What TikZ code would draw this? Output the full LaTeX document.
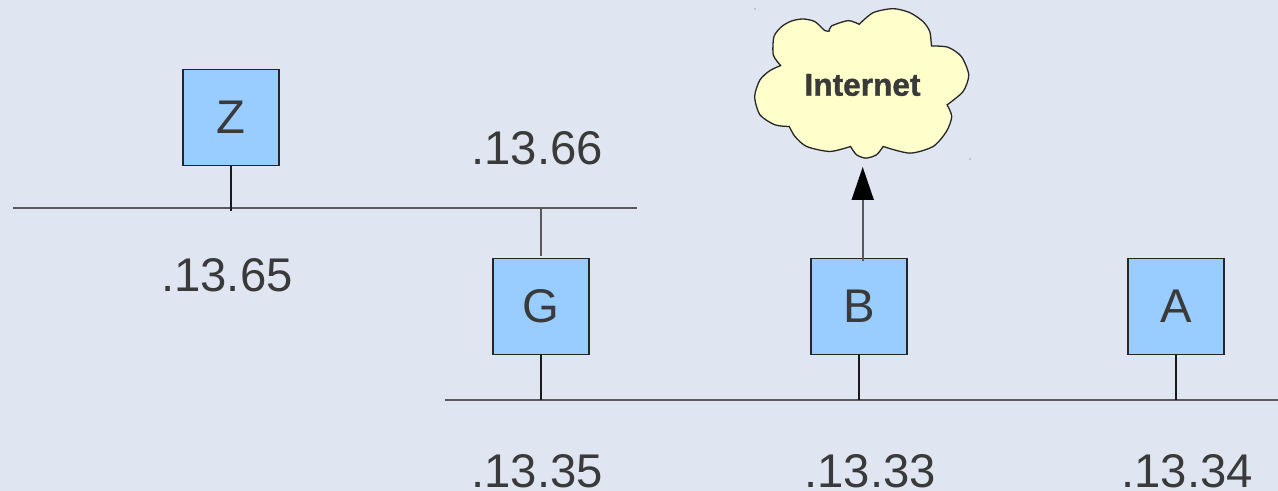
\documentclass[tikz,border=0pt]{standalone}
\usepackage{fontspec}
\setmainfont{Liberation Sans}
\newfontfamily\cloudfont{Liberation Sans Bold}[FakeBold=1.2]
\usetikzlibrary{arrows.meta}
\definecolor{slidebg}{HTML}{DFE6F2}
\definecolor{hostblue}{HTML}{99CCFF}
\definecolor{cloudyellow}{HTML}{FFFFCC}
\definecolor{inktext}{HTML}{3A3A3A}
\tikzset{
  host/.style={draw=black!85,fill=hostblue,line width=0.13mm,minimum size=9.6mm,inner sep=0pt,text=inktext,font=\fontsize{13.45}{16}\selectfont},
  addr/.style={inner sep=0pt,text=inktext,font=\fontsize{13.45}{16}\selectfont},
  wire/.style={draw=black!90,line width=0.13mm},
  netline/.style={draw=black!65,line width=0.15mm},
}
\begin{document}
\begin{tikzpicture}[x=0.1mm,y=-0.1mm]
      \useasboundingbox (0,0) rectangle (1278,491);
      \clip (0,0) rectangle (1278,491);
      \fill[slidebg] (0,0) rectangle (1278,491);
      % networks
      \coordinate (upleft) at (13,208);
      \coordinate (upright) at (637,208);
      \coordinate (lowleft) at (445,400);
      \coordinate (lowright) at (1278,400);
      \draw[netline] (upleft)--(upright);
      \draw[netline] (lowleft)--(lowright);
      % hosts
      \node[host] (Z) at (231,117.5) {Z};
      \node[host] (G) at (541,306.5) {G};
      \node[host] (B) at (859,306.5) {B};
      \node[host] (A) at (1176,306.5) {A};
      \coordinate (ztap) at (231,211);
      \coordinate (gtop) at (541,208);
      \coordinate (glow) at (541,400);
      \coordinate (blow) at (859,400);
      \coordinate (alow) at (1176,400);
      \draw[wire] (Z.south)--(ztap);
      \draw[netline,shorten >=0.2mm] (gtop)--(G.north);
      \draw[wire] (G.south)--(glow);
      \draw[wire] (B.south)--(blow);
      \draw[wire] (A.south)--(alow);
      % cloud, traced lobe by lobe
      \begin{scope}[shift={(740,0)},x=0.0333mm,y=-0.0333mm]
        \filldraw[draw=black!85,fill=cloudyellow,line width=0.13mm]
          plot[smooth,tension=0.45] coordinates {(122,197) (100,165) (102,110) (125,80) (155,63) (190,57) (225,65) (255,92) (268,93)}
          -- plot[smooth,tension=0.45] coordinates {(268,93) (275,78) (325,62) (358,73)}
          -- plot[smooth,tension=0.45] coordinates {(358,73) (400,38) (460,26) (510,38) (550,65) (570,95) (575,138)}
          -- plot[smooth,tension=0.45] coordinates {(575,138) (625,142) (665,170) (687,225) (670,275) (622,315)}
          -- plot[smooth,tension=0.45] coordinates {(622,315) (636,350) (620,395) (580,440) (510,460) (430,440)}
          -- plot[smooth,tension=0.45] coordinates {(430,440) (410,465) (378,475) (350,465) (332,440)}
          -- plot[smooth,tension=0.45] coordinates {(332,440) (270,455) (200,440) (165,410) (148,380)}
          -- plot[smooth,tension=0.45] coordinates {(148,380) (105,375) (60,345) (44,290) (60,240) (90,212) (122,197)}
          -- cycle;
      \end{scope}
      \node[inner sep=0pt,text=inktext,font=\fontsize{9}{10}\cloudfont] (net) at (862.5,85) {Internet};
      \fill[black!60] (755,9) circle (0.6);
      \fill[black!60] (970,159) circle (0.6);
      % uplink
      \coordinate (bfoot) at (862.7,261);
      \coordinate (nettip) at (862.7,167);
      \draw[netline,line width=0.17mm,-{Triangle[length=3.3mm,width=2.2mm,black]}] (bfoot)--(nettip);
      % addresses
      \node[addr] (zaddr) at (227,275) {.13.65};
      \node[addr] (gupaddr) at (537,148) {.13.66};
      \node[addr] (gaddr) at (537,471) {.13.35};
      \node[addr] (baddr) at (870,471) {.13.33};
      \node[addr] (aaddr) at (1187,471) {.13.34};
    \end{tikzpicture}
\end{document}
